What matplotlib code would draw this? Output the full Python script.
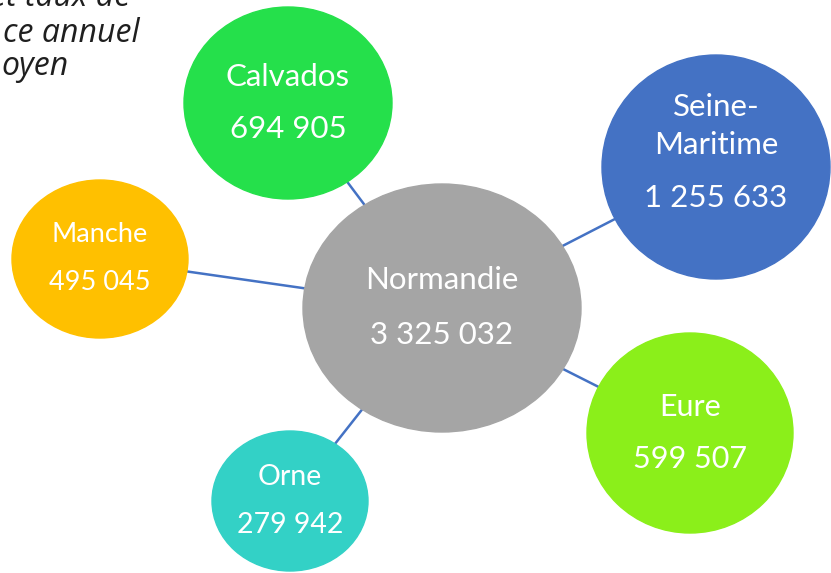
import numpy as np
import matplotlib
matplotlib.use("Agg")
import matplotlib.pyplot as plt
from matplotlib.patches import Ellipse

# data
center_name = "Normandie"
center_value = 3325032
dept_names = ["Calvados", "Seine-\nMaritime", "Eure", "Orne", "Manche"]
dept_values = [694905, 1255633, 599507, 279942, 495045]

# only these pieces of the title are visible in the cropped original
title_lines = ["et taux de", "ce annuel", "oyen"]

# layout (pixel coords, y down)
center_pos = (442, 308)
center_size = (278, 248)
dept_pos = [(288, 103), (716, 167), (690, 433), (290, 501), (100, 259)]
dept_size = [(208, 192), (228, 224), (206, 200), (156, 140), (176, 158)]
dept_colors = ["#25E04B", "#4472C4", "#8BEF1A", "#33D1C6", "#FFC000"]
dept_fs = [22.5, 22.5, 22, 20.5, 19.5]
center_color = "#A5A5A5"
line_color = "#4472C4"

FONT = "Lato"


def fmt(v):
    return f"{v:,}".replace(",", " ")


def edge_point(c, size, target):
    # point on ellipse boundary in direction of target
    cx, cy = c
    a, b = size[0] / 2, size[1] / 2
    dx, dy = target[0] - cx, target[1] - cy
    t = 1.0 / np.sqrt((dx / a) ** 2 + (dy / b) ** 2)
    return cx + dx * t, cy + dy * t


fig = plt.figure(figsize=(8.31, 5.73), dpi=100)
ax = fig.add_axes([0, 0, 1, 1])
ax.set_xlim(0, 831)
ax.set_ylim(573, 0)
ax.axis("off")

# connectors
for pos, size in zip(dept_pos, dept_size):
    p1 = edge_point(center_pos, center_size, pos)
    p2 = edge_point(pos, size, center_pos)
    ax.plot([p1[0], p2[0]], [p1[1], p2[1]], color=line_color, lw=1.8, zorder=1)

# center bubble
ax.add_patch(Ellipse(center_pos, center_size[0], center_size[1], color=center_color, zorder=2))
ax.text(center_pos[0], center_pos[1] - 28, center_name, ha="center", va="center",
        color="white", fontsize=22.5, family=FONT, zorder=3)
ax.text(center_pos[0], center_pos[1] + 27, fmt(center_value), ha="center", va="center",
        color="white", fontsize=22.5, family=FONT, zorder=3)

# department bubbles
for name, val, pos, size, col, fs in zip(dept_names, dept_values, dept_pos, dept_size, dept_colors, dept_fs):
    ax.add_patch(Ellipse(pos, size[0], size[1], color=col, zorder=2))
    if "\n" in name:
        l1, l2 = name.split("\n")
        ax.text(pos[0], pos[1] - 60, l1, ha="center", va="center", color="white",
                fontsize=fs, family=FONT, zorder=3)
        ax.text(pos[0], pos[1] - 22, l2, ha="center", va="center", color="white",
                fontsize=fs, family=FONT, zorder=3)
        ax.text(pos[0], pos[1] + 31, fmt(val), ha="center", va="center", color="white",
                fontsize=fs, family=FONT, zorder=3)
    else:
        d = 26 if fs > 21 else 24
        ax.text(pos[0], pos[1] - d, name, ha="center", va="center", color="white",
                fontsize=fs, family=FONT, zorder=3)
        ax.text(pos[0], pos[1] + d, fmt(val), ha="center", va="center", color="white",
                fontsize=fs, family=FONT, zorder=3)

# title fragments (the original image is cropped at its top-left corner)
title_spots = [(130, 6, "right"), (3, 42, "left"), (1, 75, "left")]
for line, (x, yb, ha) in zip(title_lines, title_spots):
    ax.text(x, yb, line, ha=ha, va="baseline", color="#1F1F1F", fontsize=23,
            style="italic", family="Open Sans", clip_on=False)

fig.savefig("out.png", dpi=100)
